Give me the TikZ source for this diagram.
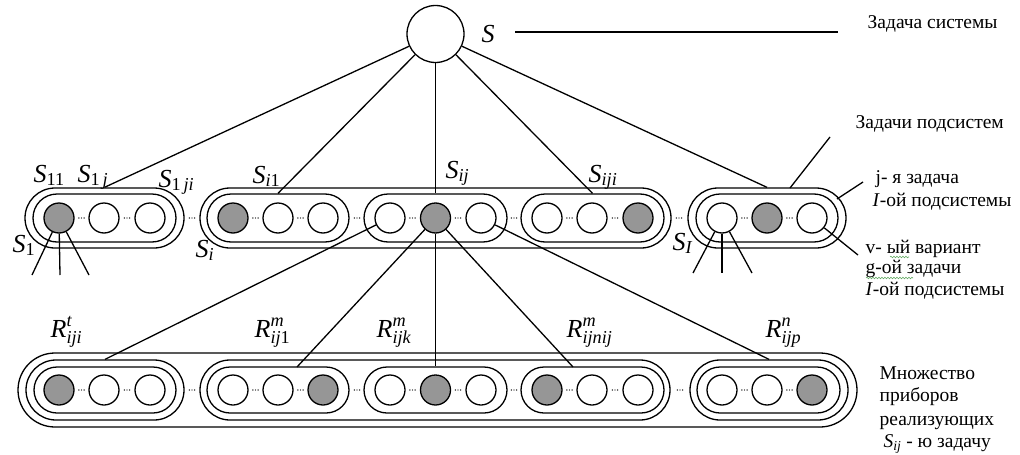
\documentclass[tikz,border=0pt]{standalone}
\usepackage{amsmath}
\usepackage{fontspec}
\setmainfont{Liberation Serif}
\usetikzlibrary{shapes.misc,decorations.pathmorphing}
\definecolor{grayc}{RGB}{150,150,150}
\definecolor{spellc}{RGB}{100,170,100}
\newcommand{\ti}[1]{\textit{#1}}
\newcommand{\tu}[1]{\textup{#1}}
\newcommand{\tdots}[2]{\foreach \dx in {-2.6,0,2.6}{\fill (#1+\dx,#2) circle (0.7pt);}}
\begin{document}
\begin{tikzpicture}[x=1pt,y=-1pt,line width=1.3pt,
  capo/.style={draw, rounded rectangle, inner sep=0pt, minimum height=60pt},
  capi/.style={draw, rounded rectangle, inner sep=0pt, minimum height=48pt},
  capb/.style={draw, rounded rectangle, inner sep=0pt, minimum height=46pt},
  capbig/.style={draw, rounded rectangle, inner sep=0pt, minimum height=74pt},
  wc/.style={draw, circle, inner sep=0pt, minimum size=30pt},
  gc/.style={wc, fill=grayc},
  lab/.style={anchor=base west, inner sep=0pt, font=\fontsize{26}{30}\selectfont},
  rus/.style={anchor=base west, inner sep=0pt, font=\fontsize{19.5}{23}\selectfont},
  spell/.style={draw=spellc, line width=0.6pt, decorate, decoration={snake, amplitude=0.8pt, segment length=3pt}}]
\useasboundingbox (0,0) rectangle (1020,455);

% top node
\node[draw, circle, inner sep=0pt, minimum size=57pt] (S) at (435.5,34) {};
\node[lab] (lS) at (481,42) {\ti{S}};
\coordinate (sl1) at (515,32);
\coordinate (sl2) at (838,32);
\draw (sl1) -- (sl2);
\node[rus] (tSys) at (867,28) {Задача системы};

% middle row
\node[capo, minimum width=159pt] (S1out) at (104.5,218) {};
\node[capi, minimum width=143pt] (S1in) at (104.5,218) {};
\node[gc] (a1) at (59,218) {};
\node[wc] (a2) at (104,218) {};
\node[wc] (a3) at (150,218) {};

\node[capo, minimum width=471pt] (Siout) at (435.5,218) {};
\node[capi, minimum width=142pt] (Si1in) at (278,218) {};
\node[gc] (b1) at (233,218) {};
\node[wc] (b2) at (278,218) {};
\node[wc] (b3) at (323,218) {};
\node[capi, minimum width=143pt] (Sijin) at (435.5,218) {};
\node[wc] (c1) at (390,218) {};
\node[gc] (c2) at (435.5,218) {};
\node[wc] (c3) at (481,218) {};
\node[capi, minimum width=143pt] (Sijiin) at (592.5,218) {};
\node[wc] (d1) at (547,218) {};
\node[wc] (d2) at (592,218) {};
\node[gc] (d3) at (638,218) {};

\node[capo, minimum width=158pt] (SIout) at (767,218) {};
\node[capi, minimum width=142pt] (SIin) at (767,218) {};
\node[wc] (e1) at (722,218) {};
\node[gc] (e2) at (767,218) {};
\node[wc] (e3) at (812,218) {};

\foreach \x in {81.5,127,192,255.5,300.5,357,412.5,458,514,569.5,615,679,744.5,789.5}{\tdots{\x}{218}}

% labels middle row
\node[lab] (lS11) at (33,182) {$\ti{S}_{\tu{11}}$};
\node[lab] (lS1j) at (77,182) {$\ti{S}_{\tu{1}\,\ti{j}}$};
\node[lab] (lS1ji) at (158,187) {$\ti{S}_{\tu{1}\,\ti{ji}}$};
\node[lab] (lS1) at (12,252) {$\ti{S}_{\tu{1}}$};
\node[lab] (lSi1) at (252,183) {$\ti{S}_{\ti{i}\tu{1}}$};
\node[lab] (lSi) at (195,257) {$\ti{S}_{\ti{i}}$};
\node[lab] (lSij) at (445,178) {$\ti{S}_{\ti{ij}}$};
\node[lab] (lSiji) at (588,182) {$\ti{S}_{\ti{iji}}$};
\node[lab] (lSI) at (672,250) {$\ti{S}_{\ti{I}}$};

% connectors from S
\draw (S) -- (S1out.north);
\draw (S) -- (Si1in.north);
\draw (S) -- (Sijin.north);
\draw (S) -- (Sijiin.north);
\draw (S) -- (SIout.north);

% legs
\coordinate (p1) at (32,275);
\coordinate (p2) at (60,275);
\coordinate (p3) at (89,275);
\draw (a1) -- (p1); \draw (a1) -- (p2); \draw (a1) -- (p3);
\coordinate (q1) at (693,273);
\coordinate (q2) at (722,273);
\coordinate (q3) at (752,273);
\draw (e1) -- (q1); \draw (e1) -- (q2); \draw (e1) -- (q3);

% right-side pointers
\coordinate (r1a) at (790,188);
\coordinate (r1b) at (830,137);
\draw (r1a) -- (r1b);
\coordinate (r2a) at (837,199);
\coordinate (r2b) at (863,182);
\draw (r2a) -- (r2b);
\coordinate (r3b) at (858,255);
\draw (e3) -- (r3b);

\node[rus] (tSub) at (855,128) {Задачи подсистем};
\node[rus] (tj1) at (875,183) {j- я задача};
\node[rus] (tj2) at (872,206) {\ti{I}-ой подсистемы};
\node[rus] (tv1) at (865,253) {v- ый вариант};
\node[rus] (tv2) at (865,273) {g-ой задачи};
\node[rus] (tv3) at (865,295) {\ti{I}-ой подсистемы};
\draw[spell] (890,257) -- (909,257);
\draw[spell] (866,278) -- (913,278);

% bottom row
\node[capbig, minimum width=839pt] (Rbig) at (437.5,390) {};
\node[capo, minimum width=158pt] (R1out) at (105,390) {};
\node[capb, minimum width=142pt] (R1in) at (105,390) {};
\node[gc] (f1) at (59,390) {};
\node[wc] (f2) at (104,390) {};
\node[wc] (f3) at (150,390) {};

\node[capo, minimum width=470pt] (R2out) at (435,390) {};
\node[capb, minimum width=142pt] (Rij1in) at (278,390) {};
\node[wc] (g1) at (233,390) {};
\node[wc] (g2) at (278,390) {};
\node[gc] (g3) at (323,390) {};
\node[capb, minimum width=143pt] (Rijkin) at (435.5,390) {};
\node[wc] (h1) at (390,390) {};
\node[gc] (h2) at (435.5,390) {};
\node[wc] (h3) at (481,390) {};
\node[capb, minimum width=143pt] (Rijnijin) at (592.5,390) {};
\node[gc] (k1) at (547,390) {};
\node[wc] (k2) at (592,390) {};
\node[wc] (k3) at (638,390) {};

\node[capo, minimum width=158pt] (Rpout) at (769,390) {};
\node[capb, minimum width=143pt] (Rpin) at (768.5,390) {};
\node[wc] (m1) at (722,390) {};
\node[wc] (m2) at (767,390) {};
\node[gc] (m3) at (812,390) {};

\foreach \x in {81.5,127,192,255.5,300.5,357,412.5,458,514,569.5,615,680,744.5,789.5}{\tdots{\x}{390}}

% connectors to bottom row
\coordinate (u2) at (297,367);
\coordinate (u4) at (573,367);
\draw (c1) -- (R1out.north);
\draw (c2) -- (u2);
\draw (c2) -- (Rijkin.north);
\draw (c2) -- (u4);
\draw (c3) -- (Rpout.north);

% R labels
\node[lab] (lR1) at (50,337) {$\ti{R}^{\ti{t}}_{\ti{iji}}$};
\node[lab] (lR2) at (254,337) {$\ti{R}^{\ti{m}}_{\ti{ij}\tu{1}}$};
\node[lab] (lR3) at (376,337) {$\ti{R}^{\ti{m}}_{\ti{ijk}}$};
\node[lab] (lR4) at (566,337) {$\ti{R}^{\ti{m}}_{\ti{ijnij}}$};
\node[lab] (lR5) at (765,337) {$\ti{R}^{\ti{n}}_{\ti{ijp}}$};

\node[rus] (tm1) at (879,379) {Множество};
\node[rus] (tm2) at (879,401) {приборов};
\node[rus] (tm3) at (879,425) {реализующих};
\node[rus] (tm4) at (883,447) {$\ti{S}_{\ti{ij}}$ - ю задачу};
\end{tikzpicture}
\end{document}
